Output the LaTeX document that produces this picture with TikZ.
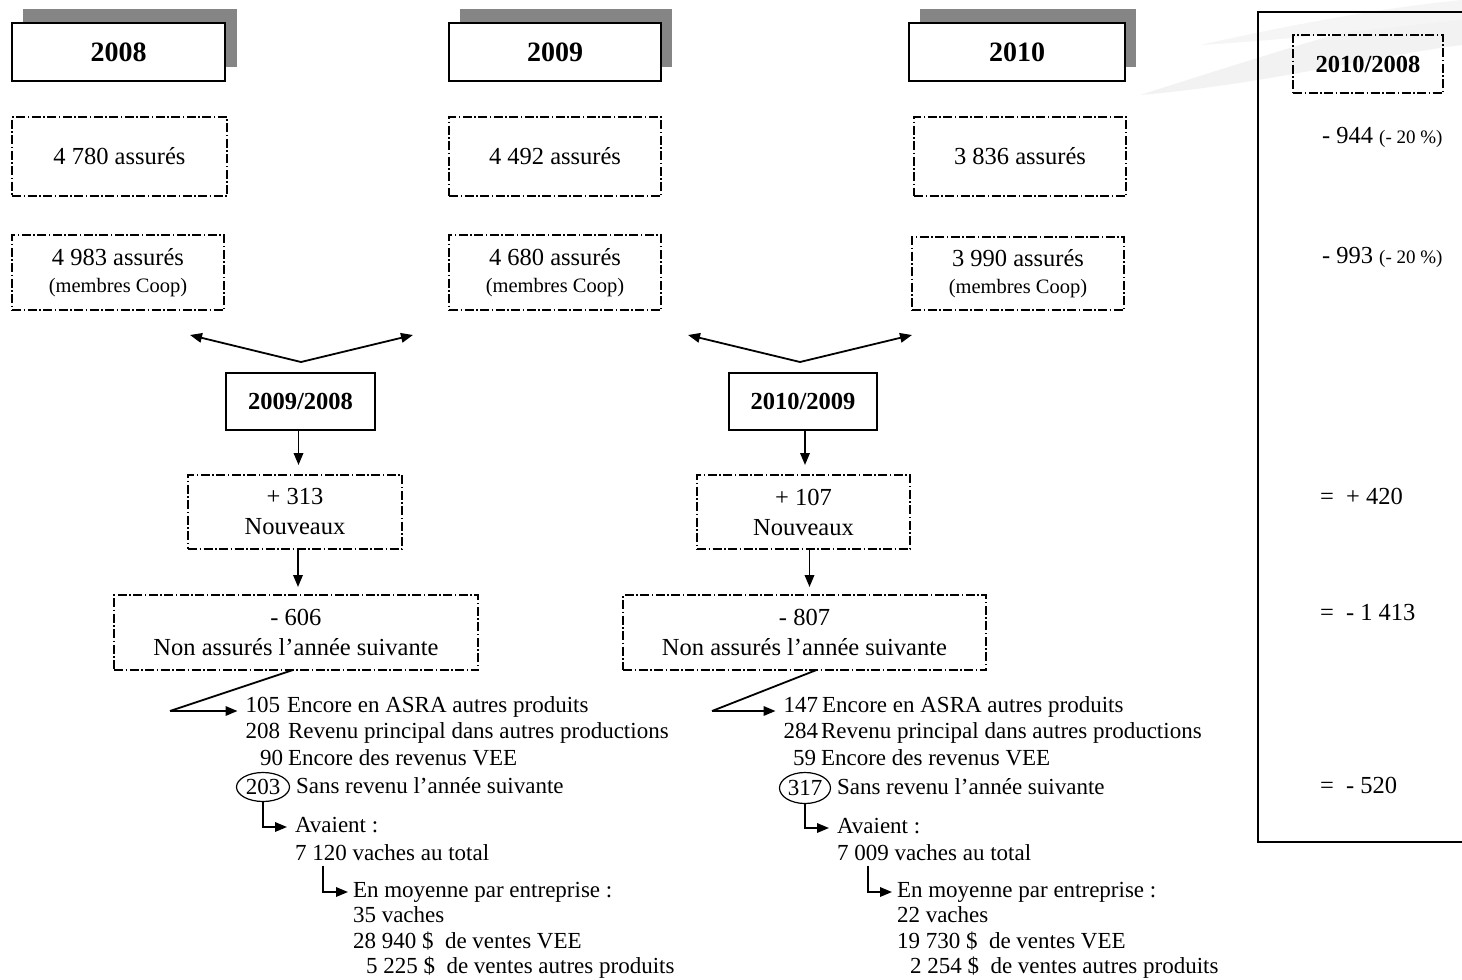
\documentclass[tikz,border=0pt]{standalone}
\usepackage{fontspec}
\setmainfont{Liberation Serif}
\usetikzlibrary{arrows.meta,calc,shapes.geometric}
\newcommand\fyear{\fontsize{28}{32}\selectfont\bfseries}
\newcommand\fbig{\fontsize{24.5}{29}\selectfont}
\newcommand\fline{\fontsize{23}{27}\selectfont}
\newcommand\fcoop{\fontsize{20.5}{26}\selectfont}
\newcommand\fpct{\fontsize{19}{22}\selectfont}
\begin{document}
\begin{tikzpicture}[x=1pt,y=-1pt,
  every node/.style={inner sep=0pt, outer sep=0pt},
  shadowbox/.style={fill=black!48, minimum height=58pt},
  yearbox/.style={draw, line width=2pt, fill=white, minimum height=58pt, font=\fyear},
  dbox/.style={draw, line width=1.5pt, dash pattern=on 9pt off 2.5pt on 1.5pt off 2.5pt, font=\fbig, align=center},
  sbox/.style={draw, line width=1.8pt, font=\fbig\bfseries},
  arr/.style={-{Triangle[length=12pt,width=9.5pt]}, line width=1.8pt},
  conn/.style={line width=1.8pt},
  ln/.style={anchor=west, font=\fline, text height=16pt, text depth=5pt},
  num/.style={anchor=east, font=\fline, text height=16pt, text depth=5pt},
  circ/.style={draw, ellipse, line width=1.2pt, font=\fline},
  rtxt/.style={anchor=west, font=\fbig, text height=17pt, text depth=5pt}]
\useasboundingbox (0,0) rectangle (1462,980);
\clip (0,0) rectangle (1462,980);
% faint background brush
\fill[black!5] (1140,95) .. controls (1250,60) and (1360,25) .. (1462,0) -- (1462,45) .. controls (1380,55) and (1260,85) .. (1140,95) -- cycle;
\fill[black!4] (1200,45) .. controls (1290,25) and (1380,8) .. (1462,0) -- (1462,20) .. controls (1380,28) and (1290,40) .. (1200,45) -- cycle;

% year boxes
\node[shadowbox, minimum width=214pt] (sh8) at (129.5,38) {};
\node[shadowbox, minimum width=212pt] (sh9) at (566,38) {};
\node[shadowbox, minimum width=216pt] (sh10) at (1028,38) {};
\node[yearbox, minimum width=213pt] (y8) at (118.5,52) {2008};
\node[yearbox, minimum width=212pt] (y9) at (555,52) {2009};
\node[yearbox, minimum width=216pt] (y10) at (1017,52) {2010};

% row 1
\node[dbox, minimum width=215pt, minimum height=79pt] (a8) at (119.5,156.5) {4 780 assurés};
\node[dbox, minimum width=212pt, minimum height=79pt] (a9) at (555,156.5) {4 492 assurés};
\node[dbox, minimum width=212pt, minimum height=79pt] (a10) at (1020,156.5) {3 836 assurés};
% row 2
\node[dbox, minimum width=212pt, minimum height=75pt] (b8) at (118,272.5) {4 983 assurés\\[-2pt]{\fcoop(membres Coop)}};
\node[dbox, minimum width=212pt, minimum height=75pt] (b9) at (555,272.5) {4 680 assurés\\[-2pt]{\fcoop(membres Coop)}};
\node[dbox, minimum width=212pt, minimum height=73pt] (b10) at (1018,273.5) {3 990 assurés\\[-2pt]{\fcoop(membres Coop)}};

% V arrows
\coordinate (v1) at (301,362);
\coordinate (v1l) at (190,335);
\coordinate (v1r) at (413,335);
\coordinate (v2) at (800,362);
\coordinate (v2l) at (688,335);
\coordinate (v2r) at (912,335);
\draw[arr] (v1) -- (v1l);
\draw[arr] (v1) -- (v1r);
\draw[arr] (v2) -- (v2l);
\draw[arr] (v2) -- (v2r);

% comparison boxes
\node[sbox, minimum width=149pt, minimum height=57pt] (s1) at (300.5,401.5) {2009/2008};
\node[sbox, minimum width=148pt, minimum height=57pt] (s2) at (803,401.5) {2010/2009};

\node[dbox, minimum width=214pt, minimum height=74pt] (n313) at (295,512) {+ 313\\[1pt]Nouveaux};
\node[dbox, minimum width=213pt, minimum height=74pt] (n107) at (803.5,512) {+ 107\\[1pt]Nouveaux};
\node[dbox, minimum width=364pt, minimum height=75pt] (n606) at (296,632.5) {- 606\\[1pt]Non assurés l’année suivante};
\node[dbox, minimum width=363pt, minimum height=75pt] (n807) at (804.5,632.5) {- 807\\[1pt]Non assurés l’année suivante};

\draw[arr, shorten >=10pt] ([xshift=-2pt]s1.south) -- ([xshift=-2pt]s1.south |- n313.north);
\draw[arr, shorten >=8pt] ([xshift=3pt]n313.south) -- ([xshift=3pt]n313.south |- n606.north);
\draw[arr, shorten >=10pt] ([xshift=2pt]s2.south) -- ([xshift=2pt]s2.south |- n107.north);
\draw[arr, shorten >=8pt] ([xshift=6pt]n107.south) -- ([xshift=6pt]n107.south |- n807.north);

% left details
\node[num] (l1n) at (280,707) {105};
\node[ln] (l1) at (287,707) {Encore en ASRA autres produits};
\node[num] (l2n) at (280,733) {208};
\node[ln] (l2) at (288,733) {Revenu principal dans autres productions};
\node[num] (l3n) at (283,760) {90};
\node[ln] (l3) at (288,760) {Encore des revenus VEE};
\node[circ, minimum width=53pt, minimum height=29pt] (c203) at (263,787) {203};
\node[ln] (l4) at (296,788) {Sans revenu l’année suivante};
\node[ln] (av1) at (295,827) {Avaient :};
\node[ln] (t1) at (295,855) {7 120 vaches au total};
\node[ln] (m1) at (353,892) {En moyenne par entreprise :};
\node[ln] (m1a) at (353,917) {35 vaches};
\node[ln] (m1b) at (353,943) {28 940 \$ \ de ventes VEE};
\node[ln] (m1c) at (366,968) {5 225 \$ \ de ventes autres produits};

\coordinate (k1) at (170,711);
\draw[conn] ([xshift=-3pt]n606.south) -- (k1);
\draw[arr, shorten >=8pt] (k1) -- (k1 -| l1n.west);
\draw[arr, shorten >=8pt] (c203.south) |- (av1.west);
\draw[arr, shorten >=5pt] ([xshift=28pt]t1.south west) |- (m1.west);

% right details
\node[num] (r1n) at (818,707) {147};
\node[ln] (r1) at (822,707) {Encore en ASRA autres produits};
\node[num] (r2n) at (818,733) {284};
\node[ln] (r2) at (821,733) {Revenu principal dans autres productions};
\node[num] (r3n) at (816,760) {59};
\node[ln] (r3) at (821,760) {Encore des revenus VEE};
\node[circ, minimum width=51pt, minimum height=31pt] (c317) at (805,788) {317};
\node[ln] (r4) at (837,789) {Sans revenu l’année suivante};
\node[ln] (av2) at (837,828) {Avaient :};
\node[ln] (t2) at (837,855) {7 009 vaches au total};
\node[ln] (m2) at (897,892) {En moyenne par entreprise :};
\node[ln] (m2a) at (897,917) {22 vaches};
\node[ln] (m2b) at (897,943) {19 730 \$ \ de ventes VEE};
\node[ln] (m2c) at (910,968) {2 254 \$ \ de ventes autres produits};

\coordinate (k2) at (712,711);
\draw[conn] ([xshift=12pt]n807.south) -- (k2);
\draw[arr, shorten >=8pt] (k2) -- (k2 -| r1n.west);
\draw[arr, shorten >=8pt] (c317.south) |- (av2.west);
\draw[arr, shorten >=5pt] ([xshift=31pt]t2.south west) |- (m2.west);

% right panel
\node[draw, line width=1.8pt, minimum width=220pt, minimum height=830pt] (panel) at (1368,427) {};
\node[dbox, font=\fbig\bfseries, minimum width=150pt, minimum height=58pt] (p0) at (1368,64) {2010/2008};
\node[rtxt] (p1) at (1322,137) {- 944 {\fpct(- 20 \%)}};
\node[rtxt] (p2) at (1322,257) {- 993 {\fpct(- 20 \%)}};
\node[rtxt] (p3) at (1320,498) {=\ \ + 420};
\node[rtxt] (p4) at (1320,614) {=\ \ - 1 413};
\node[rtxt] (p5) at (1320,787) {=\ \ - 520};
\end{tikzpicture}
\end{document}
